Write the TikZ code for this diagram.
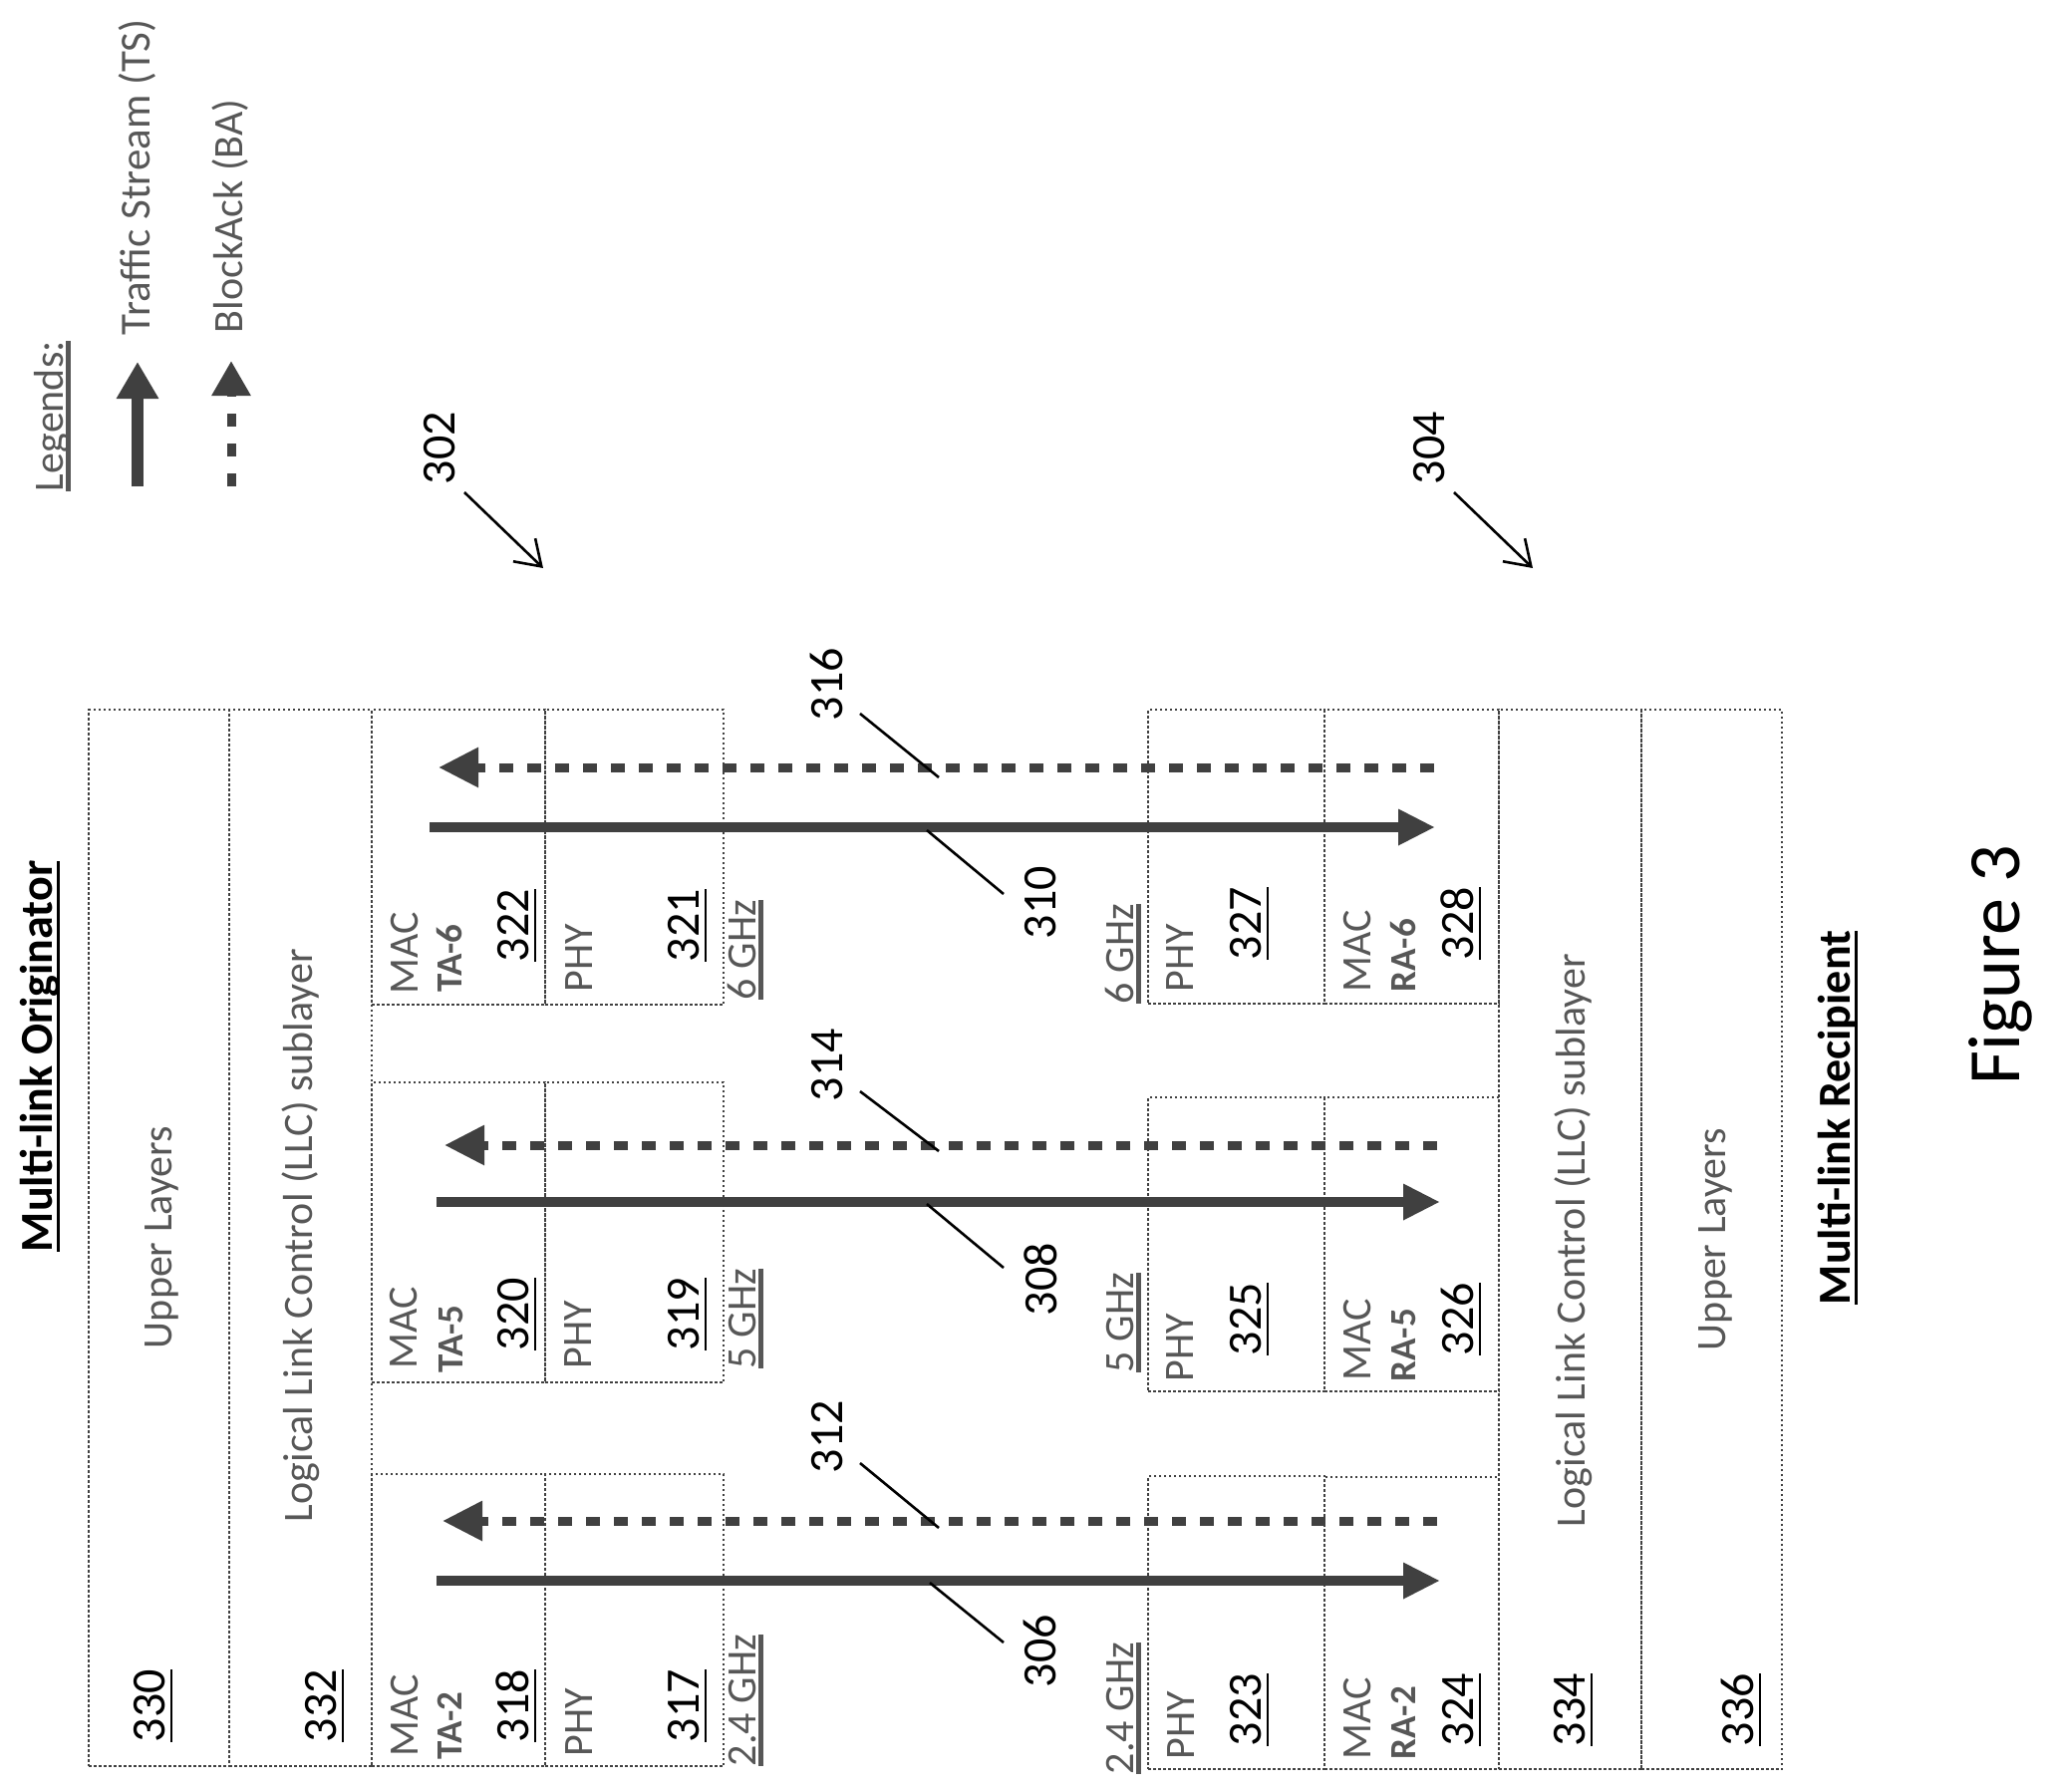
\documentclass[tikz,border=0pt]{standalone}
\usepackage{fontspec}
\setmainfont{Carlito}
\usetikzlibrary{arrows.meta}
\definecolor{dith}{gray}{0.34}
\definecolor{arr}{gray}{0.25}
\newcommand{\ulx}[1]{\setbox0\hbox{#1}\leavevmode\rlap{\rule[-.17em]{\wd0}{.055em}}\box0}
\newcommand{\ulxb}[1]{\setbox0\hbox{#1}\leavevmode\rlap{\textcolor{dith}{\rule[-.2em]{\wd0}{.13em}}}\box0}
\newcommand{\bx}[5]{\node[boxn,minimum width=#4pt-#2pt,minimum height=#5pt-#3pt] (#1) at ({(#2+#4)/2},{(#3+#5)/2}) {};}
\newcommand{\tx}[5]{\node[#1] (#2) at (#3,#4) {#5};}
\tikzset{
  x=1pt,y=-1pt,
  boxn/.style={draw=black!75,line width=2.2pt,dash pattern=on 2.5pt off 2.5pt,inner sep=0pt,outer sep=0pt,rectangle},
  base/.style={rotate=90,anchor=base west,inner sep=0pt,outer sep=0pt},
  numl/.style={base,font=\fontsize{48}{48}\selectfont},
  smalll/.style={base,text=dith,font=\fontsize{42}{42}\selectfont},
  legl/.style={base,text=dith,font=\fontsize{43}{43}\selectfont},
  small2/.style={base,text=dith,font=\fontsize{37}{37}\selectfont\bfseries},
  title/.style={base,font=\fontsize{46}{46}\selectfont\bfseries},
  fig/.style={base,font=\fontsize{74}{74}\selectfont},
  ts/.style={draw=arr,line width=10pt,-{Triangle[length=37pt,width=34pt]}},
  tsleg/.style={draw=arr,line width=12pt,-{Triangle[length=37pt,width=40pt]}},
  ba/.style={draw=arr,line width=9pt,dash pattern=on 14pt off 14pt,-{Triangle[length=40pt,width=38pt]}},
  baleg/.style={draw=arr,line width=9pt,dash pattern=on 13pt off 17pt,-{Triangle[length=35pt,width=37pt]}},
  leader/.style={draw=black,line width=2.6pt},
  refarrow/.style={draw=black,line width=2.6pt,-{Straight Barb[length=24pt,width=32pt,line width=2.6pt]}},
}
\begin{document}
\begin{tikzpicture}
\useasboundingbox (0,0) rectangle (2057,1798);
% boxes left
\bx{b330}{89}{712}{230}{1772}
\bx{b332}{230}{712}{373}{1772}
\bx{b322}{373}{712}{547}{1008}
\bx{b321}{547}{712}{726}{1008}
\bx{b320}{373}{1086}{547}{1387}
\bx{b319}{547}{1086}{726}{1387}
\bx{b318}{373}{1479}{547}{1772}
\bx{b317}{547}{1479}{726}{1772}
% boxes right
\bx{b327}{1152}{712}{1329}{1007}
\bx{b328}{1329}{712}{1504}{1007}
\bx{b325}{1152}{1101}{1329}{1396}
\bx{b326}{1329}{1101}{1504}{1396}
\bx{b323}{1152}{1481}{1329}{1775}
\bx{b324}{1329}{1482}{1504}{1775}
\bx{b334}{1504}{712}{1647}{1775}
\bx{b336}{1647}{712}{1788}{1775}
% numbers
\tx{numl}{t330}{165}{1748}{\ulx{330}}
\tx{numl}{t332}{337}{1748}{\ulx{332}}
\tx{numl}{t318}{530}{1748}{\ulx{318}}
\tx{numl}{t317}{701}{1748}{\ulx{317}}
\tx{numl}{t322}{530}{965}{\ulx{322}}
\tx{numl}{t321}{701}{965}{\ulx{321}}
\tx{numl}{t320}{530}{1355}{\ulx{320}}
\tx{numl}{t319}{701}{1355}{\ulx{319}}
\tx{numl}{t323}{1265}{1752}{\ulx{323}}
\tx{numl}{t324}{1478}{1752}{\ulx{324}}
\tx{numl}{t334}{1590}{1752}{\ulx{334}}
\tx{numl}{t336}{1759}{1752}{\ulx{336}}
\tx{numl}{t325}{1265}{1360}{\ulx{325}}
\tx{numl}{t326}{1478}{1360}{\ulx{326}}
\tx{numl}{t327}{1265}{963}{\ulx{327}}
\tx{numl}{t328}{1478}{963}{\ulx{328}}
\tx{numl}{t306}{1059}{1693}{306}
\tx{numl}{t308}{1060}{1320}{308}
\tx{numl}{t310}{1059}{942}{310}
\tx{numl}{t312}{845}{1478}{312}
\tx{numl}{t314}{845}{1105}{314}
\tx{numl}{t316}{845}{723}{316}
\tx{numl}{t302}{456}{486}{302}
\tx{numl}{t304}{1449}{486}{304}
% large labels
\tx{smalll}{u1}{172}{1353}{Upper Layers}
\tx{smalll}{u2}{1731}{1355}{Upper Layers}
\tx{smalll}{l1}{313}{1527}{Logical Link Control (LLC) sublayer}
\tx{smalll}{l2}{1590}{1532}{Logical Link Control (LLC) sublayer}
% left MAC/TA/PHY
\tx{smalll}{m6}{419}{997}{MAC}
\tx{small2}{ta6}{463}{995}{TA-6}
\tx{smalll}{p6}{594}{995}{PHY}
\tx{smalll}{g6}{758}{1003}{\ulxb{6 GHz}}
\tx{smalll}{m5}{418}{1373}{MAC}
\tx{small2}{ta5}{464}{1377}{TA-5}
\tx{smalll}{p5}{593}{1373}{PHY}
\tx{smalll}{g5}{758}{1373}{\ulxb{5 GHz}}
\tx{smalll}{m2}{419}{1762}{MAC}
\tx{small2}{ta2}{463}{1765}{TA-2}
\tx{smalll}{p2}{594}{1762}{PHY}
\tx{smalll}{g2}{758}{1772}{\ulxb{2.4 GHz}}
% right MAC/RA/PHY
\tx{smalll}{rm6}{1375}{995}{MAC}
\tx{small2}{ra6}{1420}{995}{RA-6}
\tx{smalll}{rp6}{1197}{995}{PHY}
\tx{smalll}{rg6}{1137}{1007}{\ulxb{6 GHz}}
\tx{smalll}{rm5}{1375}{1385}{MAC}
\tx{small2}{ra5}{1420}{1386}{RA-5}
\tx{smalll}{rp5}{1197}{1386}{PHY}
\tx{smalll}{rg5}{1137}{1377}{\ulxb{5 GHz}}
\tx{smalll}{rm2}{1375}{1765}{MAC}
\tx{small2}{ra2}{1420}{1765}{RA-2}
\tx{smalll}{rp2}{1198}{1765}{PHY}
\tx{smalll}{rg2}{1137}{1780}{\ulxb{2.4 GHz}}
% titles
\tx{title}{orig}{52}{1256}{\ulx{Multi-link Originator}}
\tx{title}{reci}{1856}{1309}{\ulx{Multi-link Recipient}}
\tx{fig}{figl}{2026}{1088}{Figure 3}
% legend
\tx{smalll}{leg}{63}{493}{\ulxb{Legends:}}
\tx{legl}{lts}{150}{336}{Traffic Stream (TS)}
\tx{smalll}{lba}{243}{334}{BlockAck (BA)}
\coordinate (la1) at (138,488); \coordinate (la2) at (138,363);
\coordinate (lb1) at (232,488); \coordinate (lb2) at (232,362);
\draw[tsleg] (la1) -- (la2);
\draw[baleg] (lb1) -- (lb2);
% main arrows
\coordinate (ts6a) at (431,830); \coordinate (ts6b) at (1440,830);
\coordinate (ts5a) at (438,1206); \coordinate (ts5b) at (1445,1206);
\coordinate (ts2a) at (438,1586); \coordinate (ts2b) at (1445,1586);
\coordinate (ba6a) at (1439,770); \coordinate (ba6b) at (440,770);
\coordinate (ba5a) at (1442,1149); \coordinate (ba5b) at (446,1149);
\coordinate (ba2a) at (1442,1526); \coordinate (ba2b) at (444,1526);
\draw[ts] (ts6a) -- (ts6b);
\draw[ts] (ts5a) -- (ts5b);
\draw[ts] (ts2a) -- (ts2b);
\draw[ba] (ba6a) -- (ba6b);
\draw[ba] (ba5a) -- (ba5b);
\draw[ba] (ba2a) -- (ba2b);
% leaders
\coordinate (c316a) at (863,716); \coordinate (c316b) at (942,780);
\coordinate (c310a) at (930,833); \coordinate (c310b) at (1007,897);
\coordinate (c314a) at (863,1095); \coordinate (c314b) at (942,1155);
\coordinate (c308a) at (930,1208); \coordinate (c308b) at (1007,1272);
\coordinate (c312a) at (863,1468); \coordinate (c312b) at (942,1533);
\coordinate (c306a) at (933,1588); \coordinate (c306b) at (1007,1648);
\draw[leader] (c316a) -- (c316b);
\draw[leader] (c310a) -- (c310b);
\draw[leader] (c314a) -- (c314b);
\draw[leader] (c308a) -- (c308b);
\draw[leader] (c312a) -- (c312b);
\draw[leader] (c306a) -- (c306b);
\coordinate (r2a) at (466,494); \coordinate (r2b) at (545,570);
\coordinate (r4a) at (1459,494); \coordinate (r4b) at (1538,570);
\draw[refarrow] (r2a) -- (r2b);
\draw[refarrow] (r4a) -- (r4b);
\end{tikzpicture}
\end{document}
